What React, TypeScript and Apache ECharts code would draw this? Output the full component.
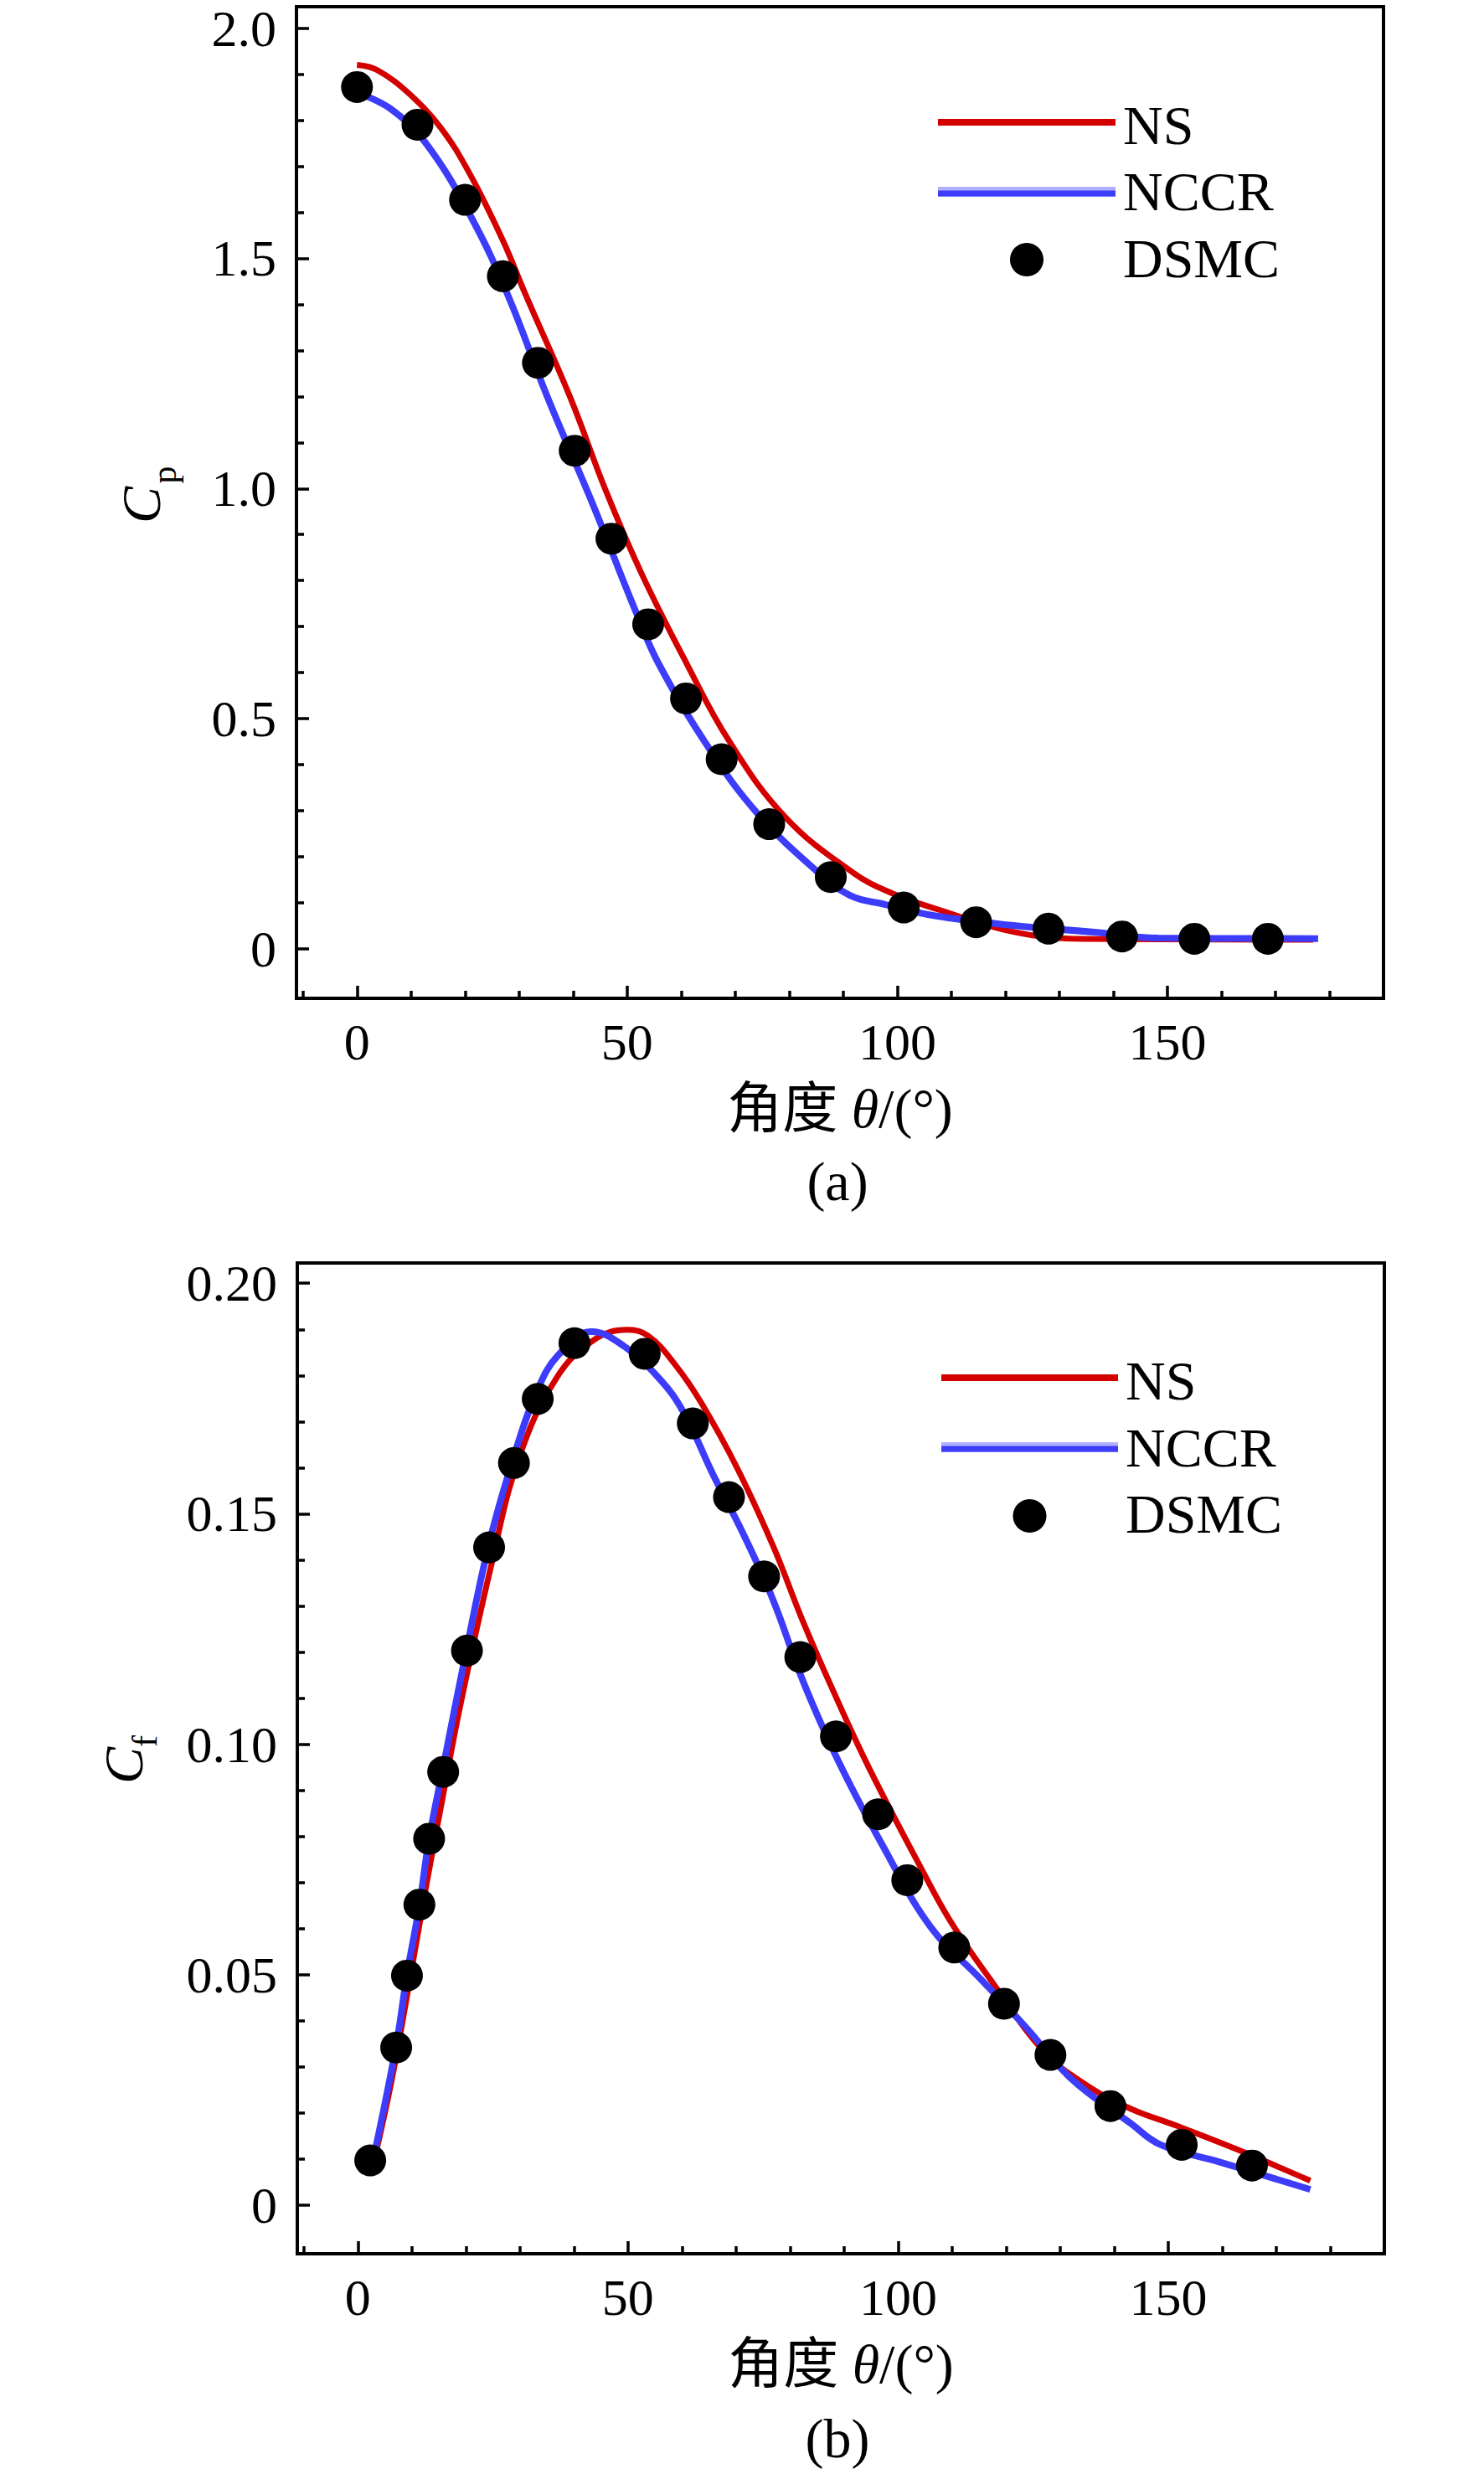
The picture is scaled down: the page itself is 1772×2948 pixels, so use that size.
import { useEffect, useRef } from "react";
import * as echarts from "echarts";

const FONT = "'Liberation Serif', 'Times New Roman', 'Noto Sans CJK SC', serif";

// panel (a): pressure coefficient
const nsCp = [
  [0, 1.92], [3.7, 1.909], [9.9, 1.855], [15.6, 1.782], [20.8, 1.685], [27, 1.539],
  [31.1, 1.424], [39.4, 1.2], [46.1, 0.994], [52.8, 0.812], [61.1, 0.618],
  [68.8, 0.453], [79.3, 0.286], [91.9, 0.165], [99, 0.121], [107.6, 0.0855],
  [121.3, 0.0376], [134.3, 0.0218], [177, 0.02],
];
const nccrCp = [
  [0, 1.86], [6.3, 1.824], [13, 1.746], [21.2, 1.588], [28, 1.418], [35.2, 1.2],
  [43.5, 0.97], [51.8, 0.727], [55.9, 0.618], [65.2, 0.435], [74, 0.296],
  [84.5, 0.175], [91.1, 0.117], [97.8, 0.0964], [106.8, 0.0722], [121.5, 0.0509],
  [136.4, 0.0364], [148.3, 0.0236], [177.9, 0.0224],
];
const dsmcCp = [
  [0, 1.872], [11.2, 1.79], [20, 1.627], [27, 1.461], [33.5, 1.273], [40.3, 1.082],
  [47.1, 0.891], [53.9, 0.705], [60.9, 0.544], [67.5, 0.412], [76.3, 0.271],
  [87.7, 0.156], [101.2, 0.09], [114.6, 0.058], [128, 0.044], [141.6, 0.027],
  [155, 0.022], [168.6, 0.022],
];

// panel (b): skin friction coefficient
const nsCf = [
  [2.5, 0.007], [6.2, 0.0267], [9.5, 0.048], [12.7, 0.0695], [15.8, 0.089],
  [18.9, 0.108], [24.5, 0.1378], [29.8, 0.162], [36.8, 0.1795], [43.7, 0.1877],
  [49.8, 0.1899], [53.7, 0.1886], [58.7, 0.1824], [63.6, 0.174], [70.3, 0.1597],
  [76.9, 0.1429], [82.4, 0.1266], [87.9, 0.1118], [94.6, 0.0949],
  [104.4, 0.0728], [109.9, 0.0612], [117.6, 0.0481], [127.1, 0.0332],
  [134.8, 0.0261], [143.1, 0.0209], [151.4, 0.0173], [162.5, 0.0122], [176.3, 0.0053],
];
const nccrCf = [
  [2.5, 0.008], [7, 0.034], [9.1, 0.05], [11.4, 0.065], [13.2, 0.0795], [15.8, 0.095],
  [20.2, 0.121], [24.3, 0.1435], [28.9, 0.1625], [33.3, 0.177], [37.1, 0.1844],
  [43.2, 0.1895], [49.2, 0.1864], [55.9, 0.1792], [60.3, 0.172], [65.8, 0.1584],
  [71.4, 0.1455], [76.9, 0.1312], [82.4, 0.1137], [89, 0.0962], [97.2, 0.0779],
  [106, 0.0604], [115.5, 0.0488], [123.8, 0.0384], [132.1, 0.0274], [143.1, 0.0177],
  [148.6, 0.0131], [159.7, 0.0093], [176.3, 0.0034],
];
const dsmcCf = [
  [2.3, 0.0097], [7.1, 0.0342], [9.1, 0.0498], [11.4, 0.0652], [13.2, 0.0795],
  [15.8, 0.094], [20.2, 0.1203], [24.3, 0.1427], [28.9, 0.161], [33.3, 0.1749],
  [40.1, 0.187], [53.1, 0.1847], [62, 0.1696], [68.7, 0.1536], [75.2, 0.1364],
  [81.9, 0.1189], [88.5, 0.1017], [96.3, 0.0848], [101.7, 0.0705], [110.4, 0.0559],
  [119.6, 0.0437], [128.2, 0.0326], [139.3, 0.0215], [152.5, 0.0131], [165.5, 0.0086],
];

const xMajorTicks = [0, 50, 100, 150];
const xMinorTicks = [-10, 10, 20, 30, 40, 60, 70, 80, 90, 110, 120, 130, 140, 160, 170, 180];
const cpMajorTicks = [0, 0.5, 1, 1.5, 2];
const cpMinorTicks = [0.1, 0.2, 0.3, 0.4, 0.6, 0.7, 0.8, 0.9, 1.1, 1.2, 1.3, 1.4, 1.6, 1.7, 1.8, 1.9];
const cfMajorTicks = [0, 0.05, 0.1, 0.15, 0.2];
const cfMinorTicks = [0.01, 0.02, 0.03, 0.04, 0.06, 0.07, 0.08, 0.09, 0.11, 0.12, 0.13, 0.14, 0.16, 0.17, 0.18, 0.19];

const legendNames = ["NS", "NCCR", "DSMC"];

const RED = "#d40000";
const BLUE = "#3c3cfa";
const AXIS_LINE = { color: "#000", width: 4 };
const TICK_LINE = { color: "#000", width: 3.5 };

// an axis that carries only inward ticks at the given values
function tickAxis(base: any, values: number[], length: number) {
  return {
    ...base,
    axisLine: { show: false, onZero: false },
    axisTick: { show: true, inside: true, length, customValues: values, lineStyle: TICK_LINE },
    axisLabel: { show: false },
  };
}

function xAxes(gridIndex: number) {
  const base = { type: "value", gridIndex, position: "bottom", min: -11.2, max: 190, splitLine: { show: false } };
  return [
    {
      ...base,
      axisLine: { show: true, onZero: false, lineStyle: AXIS_LINE },
      axisTick: { show: false },
      axisLabel: {
        customValues: xMajorTicks, margin: 21, fontSize: 62, fontFamily: FONT, color: "#000",
        formatter: (v: number) => String(v),
      },
      name: "角度 {i|θ}/(°)",
      nameLocation: "middle",
      nameGap: 98,
      nameTextStyle: {
        fontSize: 66, fontFamily: FONT, color: "#000",
        rich: { i: { fontSize: 66, fontFamily: FONT, fontStyle: "italic", color: "#000" } },
      },
    },
    tickAxis(base, xMajorTicks, 15),
    tickAxis(base, xMinorTicks, 9),
  ];
}

function yAxes(gridIndex: number, min: number, max: number, major: number[], minor: number[], digits: number) {
  const base = { type: "value", gridIndex, position: "left", min, max, splitLine: { show: false } };
  return [
    {
      ...base,
      axisLine: { show: true, onZero: false, lineStyle: AXIS_LINE },
      axisTick: { show: false },
      axisLabel: {
        customValues: major, margin: 24, fontSize: 62, fontFamily: FONT, color: "#000",
        formatter: (v: number) => (v === 0 ? "0" : v.toFixed(digits)),
      },
    },
    tickAxis(base, major, 15),
    tickAxis(base, minor, 9),
  ];
}

function panelSeries(xi: number, yi: number, ns: number[][], nccr: number[][], dsmc: number[][]) {
  return [
    {
      name: legendNames[0], type: "line", xAxisIndex: xi, yAxisIndex: yi, data: ns,
      smooth: 0.4, showSymbol: false, lineStyle: { color: RED, width: 7 }, z: 2,
    },
    {
      name: legendNames[1], type: "line", xAxisIndex: xi, yAxisIndex: yi, data: nccr,
      smooth: 0.4, showSymbol: false, lineStyle: { color: BLUE, width: 8 }, z: 3,
    },
    {
      name: legendNames[2], type: "scatter", xAxisIndex: xi, yAxisIndex: yi, data: dsmc,
      symbol: "circle", symbolSize: 38, itemStyle: { color: "#000", opacity: 1 }, z: 4,
    },
  ];
}

function text(x: number, y: number, s: string, size: number, extra: any = {}, rotation = 0) {
  return {
    type: "text", x, y, rotation, z: 10,
    style: {
      text: s, fill: "#000", fontSize: size, fontFamily: FONT,
      textAlign: "center", textVerticalAlign: "middle", ...extra,
    },
  };
}

function legend(x0: number, x1: number, tx: number, ys: number[], ty: number[]) {
  const cx = (x0 + x1) / 2;
  return [
    { type: "line", z: 10, shape: { x1: x0, y1: ys[0], x2: x1, y2: ys[0] }, style: { stroke: RED, lineWidth: 8 } },
    { type: "line", z: 10, shape: { x1: x0, y1: ys[1], x2: x1, y2: ys[1] }, style: { stroke: "#b0b0ff", lineWidth: 12 } },
    { type: "line", z: 11, shape: { x1: x0, y1: ys[1] + 2, x2: x1, y2: ys[1] + 2 }, style: { stroke: BLUE, lineWidth: 7 } },
    { type: "circle", z: 10, shape: { cx, cy: ys[2], r: 20 }, style: { fill: "#000" } },
    ...legendNames.map((n, i) => text(tx, ty[i], n, 66, { textAlign: "left" })),
  ];
}

export default function App() {
  const ref = useRef<HTMLDivElement | null>(null);

  useEffect(() => {
    if (!ref.current) return;
    const chart = echarts.init(ref.current, undefined, { renderer: "svg" });
    const gridStyle = { show: true, borderColor: "#000", borderWidth: 4, backgroundColor: "transparent", containLabel: false };
    chart.setOption({
      animation: false,
      backgroundColor: "#fff",
      grid: [
        { ...gridStyle, left: 354, top: 8, width: 1298, height: 1184 },
        { ...gridStyle, left: 355, top: 1508, width: 1298, height: 1183 },
      ],
      xAxis: [...xAxes(0), ...xAxes(1)],
      yAxis: [
        ...yAxes(0, -0.1073, 2.0464, cpMajorTicks, cpMinorTicks, 1),
        ...yAxes(1, -0.01054, 0.2044, cfMajorTicks, cfMinorTicks, 2),
      ],
      series: [
        ...panelSeries(0, 0, nsCp, nccrCp, dsmcCp),
        ...panelSeries(3, 3, nsCf, nccrCf, dsmcCf),
      ],
      graphic: [
        // axis titles C_p / C_f
        text(168, 603, "C", 66, { fontStyle: "italic" }, Math.PI / 2),
        text(196, 567, "p", 42, {}, Math.PI / 2),
        text(147, 2108, "C", 66, { fontStyle: "italic" }, Math.PI / 2),
        text(173, 2079, "f", 42, {}, Math.PI / 2),
        text(1000, 1410, "(a)", 66),
        text(1000, 2911, "(b)", 66),
        ...legend(1120, 1332, 1341, [146, 229, 310], [149, 228, 308]),
        ...legend(1124, 1335, 1344, [1645, 1728, 1810], [1648, 1728, 1807]),
      ],
    });
    return () => chart.dispose();
  }, []);

  return (
    <div
      ref={ref}
      style={{ position: "absolute", left: 0, top: 0, width: 1772, height: 2948, background: "#fff" }}
    />
  );
}
